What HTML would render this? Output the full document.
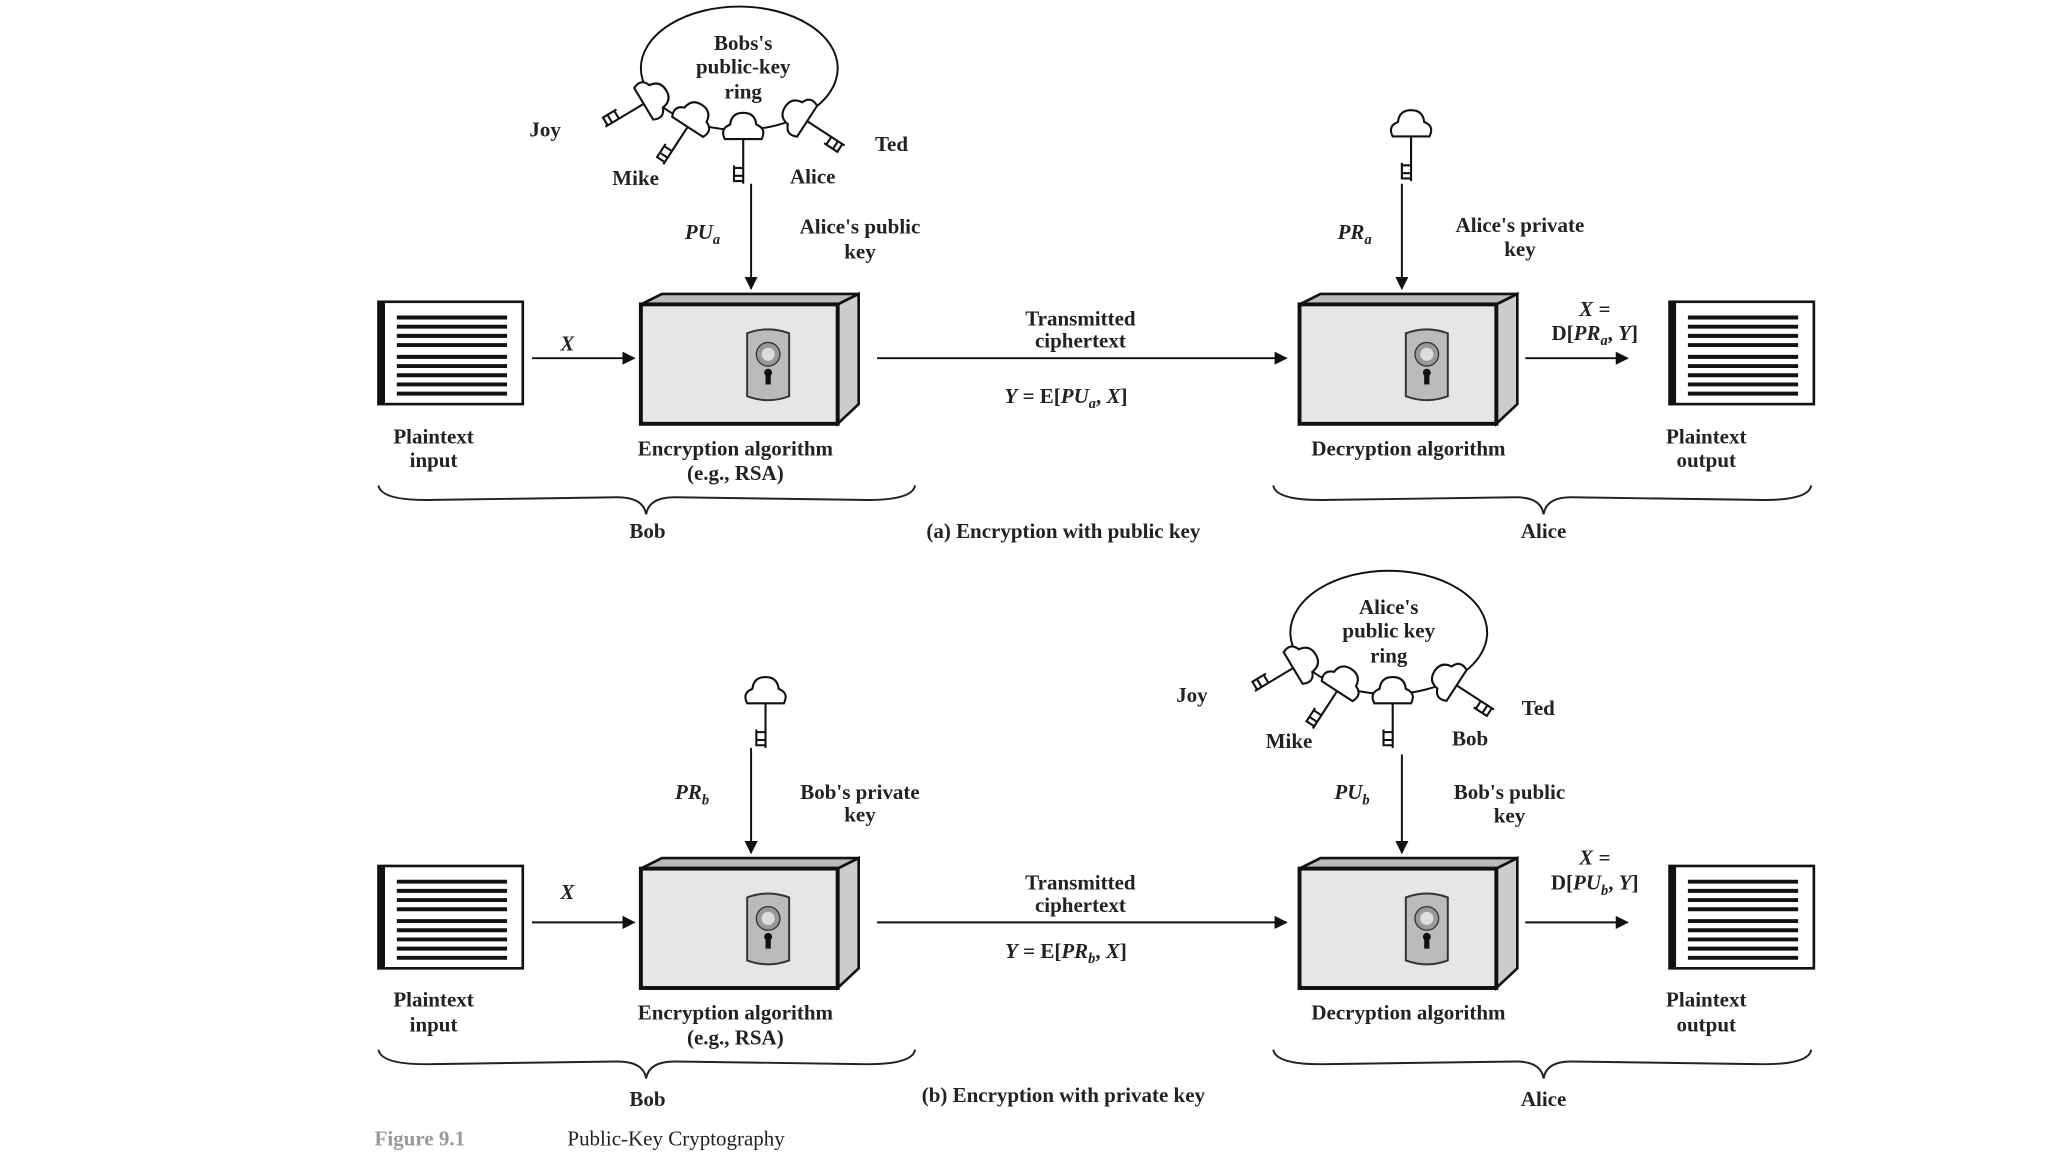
<!DOCTYPE html>
<html><head><meta charset="utf-8"><style>
html,body{margin:0;padding:0;background:#fff;}
svg{display:block}
text{font-family:"Liberation Serif",serif;font-weight:bold;font-size:16px;fill:#222;text-anchor:middle}
.i{font-style:italic}
</style></head><body>
<svg width="2048" height="1152" viewBox="0 0 1560 878" xmlns="http://www.w3.org/2000/svg">
<defs>
<marker id="ah" markerWidth="10" markerHeight="10" refX="9" refY="5" orient="auto" markerUnits="userSpaceOnUse"><path d="M0,0 L10,5 L0,10 z" fill="#111"/></marker>
<g id="box">
  <path d="M0,8 L16,0 L166,0 L150,8 z" fill="#bbb" stroke="#111" stroke-width="2"/>
  <path d="M150,8 L166,0 L166,84 L150,99 z" fill="#ccc" stroke="#111" stroke-width="2"/>
  <rect x="0" y="8" width="150" height="91" fill="#e6e6e6" stroke="#111" stroke-width="3"/>
  <g transform="translate(97,54)">
    <path d="M-16,-24 Q0,-30 16,-24 L16,24 Q0,30 -16,24 z" fill="#bbb" stroke="#333" stroke-width="1.5"/>
    <circle cx="0" cy="-8" r="9" fill="#999" stroke="#333"/>
    <circle cx="0" cy="-8" r="5" fill="#ddd"/>
    <circle cx="0" cy="6" r="3" fill="#111"/><rect x="-2" y="6" width="4" height="9" fill="#111"/>
  </g>
</g>
<g id="doc">
  <rect x="0" y="0" width="110" height="78" fill="#fff" stroke="#111" stroke-width="2"/>
  <rect x="0" y="0" width="5" height="78" fill="#111"/>
  <g stroke="#111" stroke-width="3">
    <line x1="14" y1="12" x2="98" y2="12"/><line x1="14" y1="19" x2="98" y2="19"/><line x1="14" y1="26" x2="98" y2="26"/><line x1="14" y1="33" x2="98" y2="33"/>
    <line x1="14" y1="42" x2="98" y2="42"/><line x1="14" y1="49" x2="98" y2="49"/><line x1="14" y1="56" x2="98" y2="56"/><line x1="14" y1="63" x2="98" y2="63"/><line x1="14" y1="70" x2="98" y2="70"/>
  </g>
</g>
<g id="key" fill="none" stroke="#111" stroke-width="1.6">
  <path d="M-14,8 Q-18,0 -10,-3 Q-9,-12 0,-12 Q9,-12 10,-3 Q18,0 14,8 z" fill="#fff"/>
  <line x1="0" y1="8" x2="0" y2="42"/>
  <path d="M0,30 L-7,30 M0,36 L-7,36 M-7,28 L-7,40 L0,40"/>
</g>
<g id="ring">
  <use href="#key" transform="translate(497,75) rotate(59)"/>
  <use href="#key" transform="translate(528,90) rotate(33)"/>
  <use href="#key" transform="translate(566,98)"/>
  <use href="#key" transform="translate(608,88) rotate(-57)"/>
</g>
</defs>

<!-- ===== (a) ===== -->
<ellipse cx="563" cy="52" rx="75" ry="47" fill="none" stroke="#111" stroke-width="1.5"/>
<use href="#ring"/>
<text x="415" y="104">Joy</text><text x="484" y="141">Mike</text><text x="619" y="140">Alice</text><text x="679" y="115">Ted</text>
<text x="566" y="38">Bobs's</text><text x="566" y="56">public-key</text><text x="566" y="75">ring</text>
<line x1="572" y1="140" x2="572" y2="220" stroke="#111" stroke-width="1.5" marker-end="url(#ah)"/>
<text x="535" y="182" class="i">PU<tspan font-size="11" dy="4">a</tspan></text>
<text x="655" y="178">Alice's public</text><text x="655" y="197">key</text>
<use href="#doc" transform="translate(288,230)"/>
<line x1="405" y1="273" x2="483" y2="273" stroke="#111" stroke-width="1.5" marker-end="url(#ah)"/>
<text x="432" y="267" class="i">X</text>
<use href="#box" transform="translate(488,224)"/>
<text x="823" y="248">Transmitted</text><text x="823" y="265">ciphertext</text>
<line x1="668" y1="273" x2="980" y2="273" stroke="#111" stroke-width="1.5" marker-end="url(#ah)"/>
<text x="812" y="307"><tspan class="i">Y</tspan> = E[<tspan class="i">PU</tspan><tspan font-size="11" dy="4" class="i">a</tspan><tspan dy="-4">, </tspan><tspan class="i">X</tspan>]</text>
<use href="#key" transform="translate(1075,96)"/>
<line x1="1068" y1="140" x2="1068" y2="220" stroke="#111" stroke-width="1.5" marker-end="url(#ah)"/>
<text x="1032" y="182" class="i">PR<tspan font-size="11" dy="4">a</tspan></text>
<text x="1158" y="177">Alice's private</text><text x="1158" y="195">key</text>
<use href="#box" transform="translate(990,224)"/>
<text x="1215" y="241" class="i">X =</text>
<text x="1215" y="259">D[<tspan class="i">PR</tspan><tspan font-size="11" dy="4" class="i">a</tspan><tspan dy="-4">, </tspan><tspan class="i">Y</tspan>]</text>
<line x1="1162" y1="273" x2="1240" y2="273" stroke="#111" stroke-width="1.5" marker-end="url(#ah)"/>
<use href="#doc" transform="translate(1272,230)"/>
<text x="330" y="338">Plaintext</text><text x="330" y="356">input</text>
<text x="560" y="347">Encryption algorithm</text><text x="560" y="366">(e.g., RSA)</text>
<text x="1073" y="347">Decryption algorithm</text>
<text x="1300" y="338">Plaintext</text><text x="1300" y="356">output</text>
<path d="M288,370 Q290,382 330,381 L470,379 Q490,379 492,392 Q494,379 514,379 L655,381 Q695,382 697,370" fill="none" stroke="#222" stroke-width="1.5"/>
<path d="M970,370 Q972,382 1012,381 L1155,379 Q1174,379 1176,392 Q1178,379 1197,379 L1338,381 Q1378,382 1380,370" fill="none" stroke="#222" stroke-width="1.5"/>
<text x="493" y="410">Bob</text><text x="1176" y="410">Alice</text>
<text x="810" y="410" font-size="19">(a) Encryption with public key</text>

<!-- ===== (b) ===== -->
<use href="#key" transform="translate(583,528)"/>
<line x1="572" y1="570" x2="572" y2="650" stroke="#111" stroke-width="1.5" marker-end="url(#ah)"/>
<text x="527" y="609" class="i">PR<tspan font-size="11" dy="4">b</tspan></text>
<text x="655" y="609">Bob's private</text><text x="655" y="626">key</text>
<ellipse cx="1058" cy="482" rx="75" ry="47" fill="none" stroke="#111" stroke-width="1.5"/>
<use href="#ring" transform="translate(495,430)"/>
<text x="1058" y="468">Alice's</text><text x="1058" y="486">public key</text><text x="1058" y="505">ring</text>
<text x="908" y="535">Joy</text><text x="982" y="570">Mike</text><text x="1120" y="568">Bob</text><text x="1172" y="545">Ted</text>
<line x1="1068" y1="575" x2="1068" y2="650" stroke="#111" stroke-width="1.5" marker-end="url(#ah)"/>
<text x="1030" y="609" class="i">PU<tspan font-size="11" dy="4">b</tspan></text>
<text x="1150" y="609">Bob's public</text><text x="1150" y="627">key</text>
<use href="#doc" transform="translate(288,660)"/>
<line x1="405" y1="703" x2="483" y2="703" stroke="#111" stroke-width="1.5" marker-end="url(#ah)"/>
<text x="432" y="685" class="i">X</text>
<use href="#box" transform="translate(488,654)"/>
<text x="823" y="678">Transmitted</text><text x="823" y="695">ciphertext</text>
<line x1="668" y1="703" x2="980" y2="703" stroke="#111" stroke-width="1.5" marker-end="url(#ah)"/>
<text x="812" y="730"><tspan class="i">Y</tspan> = E[<tspan class="i">PR</tspan><tspan font-size="11" dy="4" class="i">b</tspan><tspan dy="-4">, </tspan><tspan class="i">X</tspan>]</text>
<use href="#box" transform="translate(990,654)"/>
<text x="1215" y="659" class="i">X =</text>
<text x="1215" y="678">D[<tspan class="i">PU</tspan><tspan font-size="11" dy="4" class="i">b</tspan><tspan dy="-4">, </tspan><tspan class="i">Y</tspan>]</text>
<line x1="1162" y1="703" x2="1240" y2="703" stroke="#111" stroke-width="1.5" marker-end="url(#ah)"/>
<use href="#doc" transform="translate(1272,660)"/>
<text x="330" y="767">Plaintext</text><text x="330" y="786">input</text>
<text x="560" y="777">Encryption algorithm</text><text x="560" y="796">(e.g., RSA)</text>
<text x="1073" y="777">Decryption algorithm</text>
<text x="1300" y="767">Plaintext</text><text x="1300" y="786">output</text>
<path d="M288,800 Q290,812 330,811 L470,809 Q490,809 492,822 Q494,809 514,809 L655,811 Q695,812 697,800" fill="none" stroke="#222" stroke-width="1.5"/>
<path d="M970,800 Q972,812 1012,811 L1155,809 Q1174,809 1176,822 Q1178,809 1197,809 L1338,811 Q1378,812 1380,800" fill="none" stroke="#222" stroke-width="1.5"/>
<text x="493" y="843">Bob</text><text x="1176" y="843">Alice</text>
<text x="810" y="840" font-size="19">(b) Encryption with private key</text>

<text x="285" y="873" font-size="18" style="text-anchor:start;fill:#999">Figure 9.1</text>
<text x="432" y="873" font-size="20" style="text-anchor:start;font-weight:normal">Public-Key Cryptography</text>
</svg>
</body></html>
